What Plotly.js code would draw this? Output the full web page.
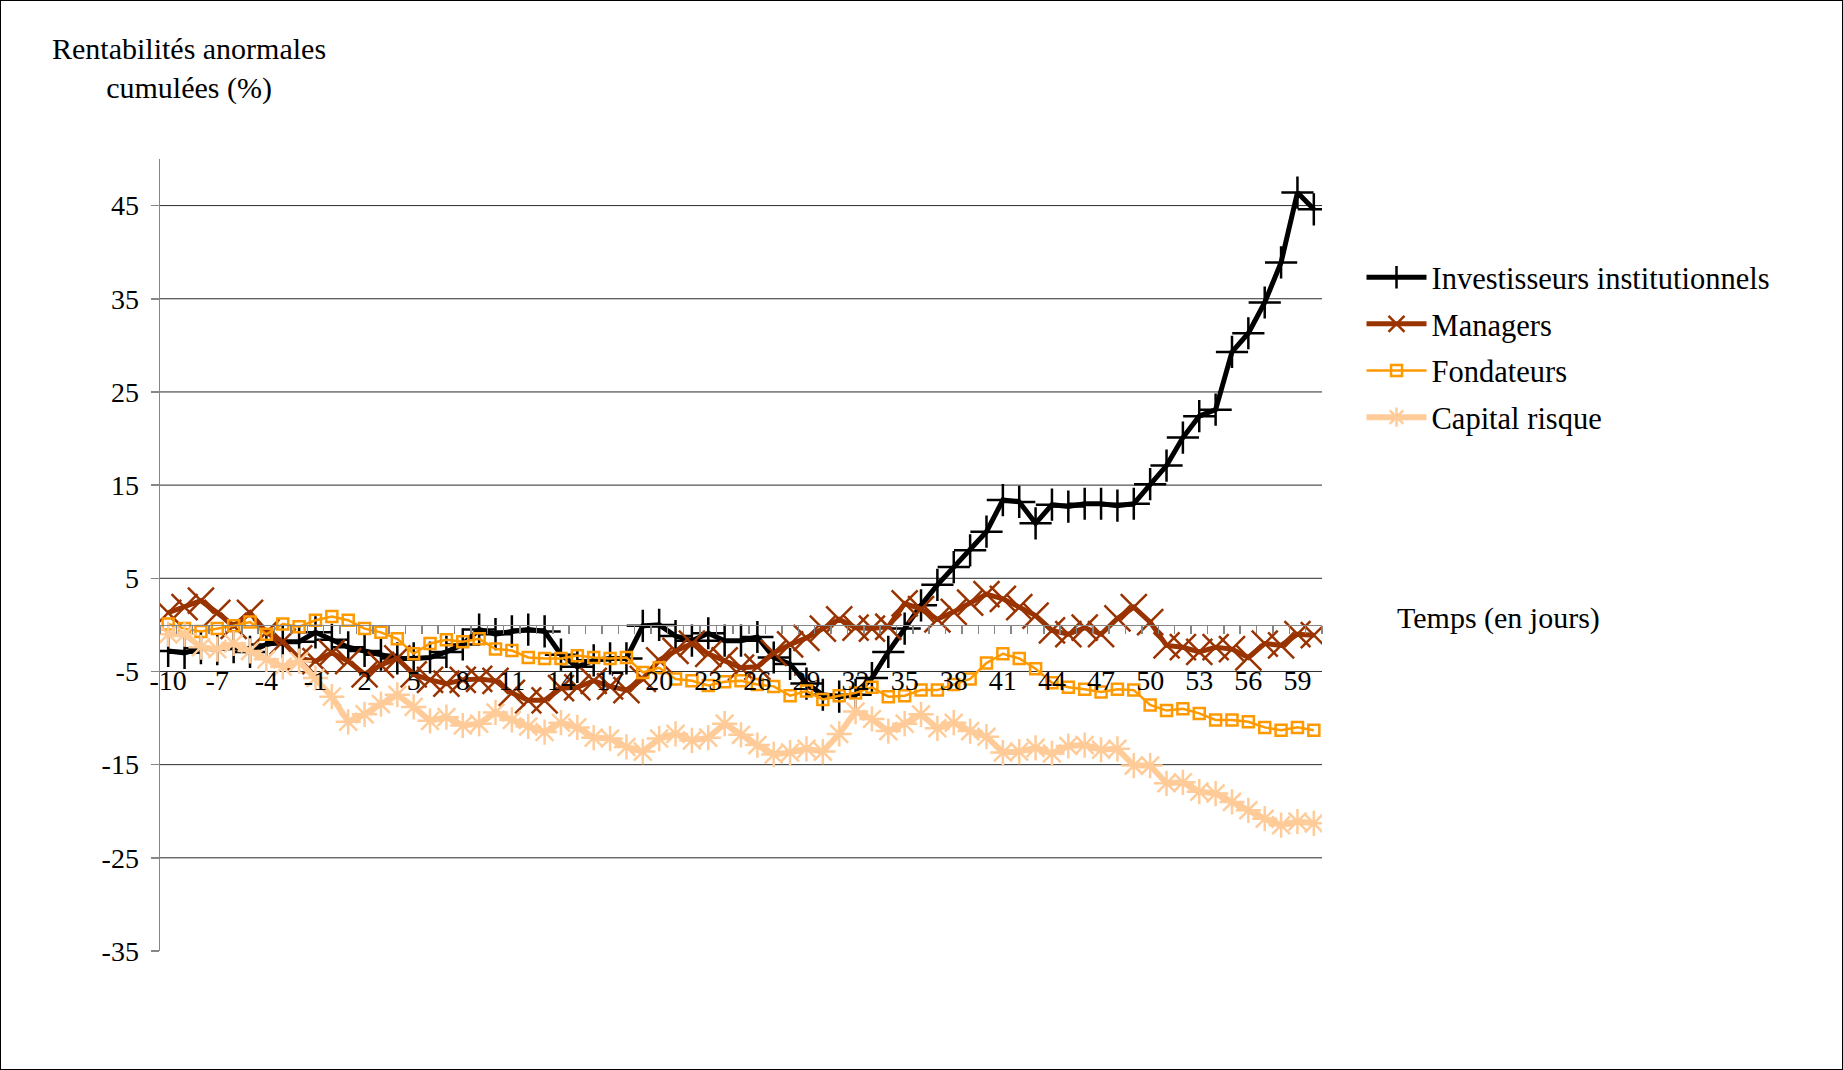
<!DOCTYPE html>
<html>
<head>
<meta charset="utf-8">
<script src="https://cdn.plot.ly/plotly-3.0.1.min.js"></script>
<style>
  html, body { margin: 0; padding: 0; background: #fff; }
  #wrap { width: 1841px; height: 1068px; border: 1px solid #000; }
  #chart { width: 1841px; height: 1068px; }
</style>
</head>
<body>
<div id="wrap"><div id="chart"></div></div>
<script>
// Days relative to the event (-10 .. 60)
const days = [];
for (let d = -10; d <= 60; d++) days.push(d);

const xTickLabels = [-10, -7, -4, -1, 2, 5, 8, 11, 14, 17, 20, 23, 26, 29, 32, 35, 38, 41, 44, 47, 50, 53, 56, 59];
const yTicks = [-35, -25, -15, -5, 5, 15, 25, 35, 45];

const investisseurs = [
  -2.8, -3.0, -2.5, -2.6, -2.4, -2.9, -2.1, -1.8, -1.8, -0.8,
  -1.6, -2.4, -2.8, -3.2, -3.6, -3.6, -3.5, -2.9, -2.1, -0.5,
  -1.0, -0.7, -0.5, -0.7, -3.2, -4.5, -3.8, -3.6, -3.6, -0.1,
   0.0, -1.2, -1.7, -0.9, -1.7, -1.7, -1.3, -3.5, -4.2, -6.3,
  -7.5, -7.7, -7.5, -5.7, -2.9, -0.4,  2.1,  4.3,  6.2,  8.0,
  10.0, 13.4, 13.2, 10.9, 12.9, 12.7, 13.0, 13.0, 12.8, 13.0,
  15.1, 17.1, 20.1, 22.4, 23.1, 29.3, 31.3, 34.6, 38.9, 46.4,
  44.6
];

const managers = [
   1.3,  1.9,  2.6,  1.3, -0.1,  1.3, -0.8, -1.8, -3.6, -3.9,
  -3.0, -3.9, -5.3, -4.3, -3.6, -5.3, -5.9, -6.3, -5.9, -5.8,
  -6.0, -7.3, -8.1, -8.1, -6.8, -6.7, -6.0, -6.6, -7.0, -5.8,
  -3.8, -2.8, -2.0, -3.1, -3.8, -4.6, -4.5, -3.0, -2.1, -1.4,
  -0.4,  0.6, -0.3, -0.4, -0.2,  2.3,  1.7,  0.6,  1.4,  2.4,
   3.3,  2.8,  1.9,  1.0, -0.6, -1.0, -0.3, -1.0,  0.7,  1.9,
   0.3, -2.2, -2.4, -2.9, -2.4, -2.6, -3.5, -2.0, -2.2, -1.0,
  -1.1
];

const fondateurs = [
   0.1, -0.4, -0.7, -0.4, -0.1,  0.3, -1.0,  0.1, -0.2,  0.5,
   0.9,  0.5, -0.4, -0.8, -1.5, -3.1, -2.0, -1.6, -1.8, -1.5,
  -2.6, -2.75, -3.5, -3.6, -3.6, -3.3, -3.5, -3.6, -3.5, -5.1,
  -4.6, -5.8, -6.0, -6.5, -6.1, -6.0, -6.4, -6.6, -7.6, -7.1,
  -8.0, -7.6, -7.3, -6.7, -7.7, -7.6, -7.0, -7.0, -6.4, -5.8,
  -4.1, -3.1, -3.6, -4.7, -6.2, -6.7, -6.9, -7.2, -6.9, -7.0,
  -8.6, -9.2, -9.0, -9.5, -10.2, -10.2, -10.4, -11.0, -11.3, -11.0,
  -11.3
];

const capitalRisque = [
  -1.0, -1.0, -2.4, -2.6, -2.0, -2.8, -3.7, -4.5, -3.9, -5.7,
  -7.7, -10.4, -9.6, -8.5, -7.5, -8.8, -10.3, -9.9, -10.8, -10.6,
  -9.4, -10.2, -10.9, -11.5, -10.5, -11.0, -12.1, -12.2, -13.1, -13.6,
  -12.2, -11.7, -12.4, -12.1, -10.6, -11.8, -12.9, -13.9, -13.7, -13.3,
  -13.6, -11.7, -9.3, -10.1, -11.4, -10.6, -9.6, -11.1, -10.5, -11.4,
  -12.0, -13.7, -13.6, -13.2, -13.8, -13.0, -12.9, -13.4, -13.3, -15.1,
  -15.1, -17.0, -16.9, -17.9, -18.1, -19.0, -19.9, -20.8, -21.5, -21.1,
  -21.3
];

const FONT = 'Liberation Serif, Times New Roman, serif';
const yMin = -35, yMax = 50;

const traces = [
  {
    name: 'Investisseurs institutionnels', x: days, y: investisseurs,
    type: 'scatter', mode: 'lines+markers', legendgroup: 'g1',
    line: { color: '#000000', width: 5 },
    marker: { symbol: 'cross-thin-open', size: 23, color: '#000000', line: { color: '#000000', width: 2.5 } }
  },
  {
    name: 'Managers', x: days, y: managers,
    type: 'scatter', mode: 'lines+markers', legendgroup: 'g2',
    line: { color: '#993300', width: 5 },
    marker: { symbol: 'x-thin-open', size: 26, color: '#993300', line: { color: '#993300', width: 2.5 } }
  },
  {
    name: 'Fondateurs', x: days, y: fondateurs,
    type: 'scatter', mode: 'lines+markers', legendgroup: 'g3',
    line: { color: '#FF9900', width: 2.5 },
    marker: { symbol: 'square-open', size: 11, color: '#FF9900', line: { color: '#FF9900', width: 2.5 } }
  },
  {
    name: 'Capital risque', x: days, y: capitalRisque,
    type: 'scatter', mode: 'lines+markers', legendgroup: 'g4',
    line: { color: '#FFCC99', width: 6 },
    marker: { symbol: 'asterisk-open', size: 21, color: '#FFCC99', line: { color: '#FFCC99', width: 2.5 } }
  }
];

const gridShapes = yTicks.filter(v => v !== yMin).map(v => ({
  type: 'line', xref: 'paper', yref: 'y', x0: 0, x1: 1, y0: v, y1: v,
  line: { color: '#2a2a2a', width: 1 }, layer: 'below'
}));

const layout = {
  width: 1841, height: 1068,
  margin: { l: 159, r: 520, t: 158, b: 118 },
  paper_bgcolor: '#ffffff', plot_bgcolor: '#ffffff',
  font: { family: FONT, size: 28, color: '#000' },
  showlegend: true,
  legend: {
    x: 1.034, xanchor: 'left', y: 0.884, yanchor: 'top',
    font: { family: FONT, size: 30.5, color: '#000' },
    itemwidth: 60, tracegroupgap: 4,
    bgcolor: 'rgba(0,0,0,0)', borderwidth: 0
  },
  xaxis: {
    range: [-10.5, 60.5],
    anchor: 'free', position: (0 - yMin) / (yMax - yMin),
    tickmode: 'array', tickvals: xTickLabels, ticktext: xTickLabels.map(v => String(v)),
    ticks: 'outside', ticklen: 8, tickcolor: 'rgba(0,0,0,0)',
    minor: { tick0: -10.5, dtick: 1, ticks: 'outside', ticklen: 8, tickwidth: 1.5, tickcolor: '#868686', showgrid: false },
    ticklabelstandoff: 22,
    showline: true, linecolor: '#868686', linewidth: 1.5,
    showgrid: false, zeroline: false,
    tickfont: { family: FONT, size: 28, color: '#000' }
  },
  yaxis: {
    range: [yMin, yMax],
    tickmode: 'array', tickvals: yTicks, ticktext: yTicks.map(v => String(v)),
    ticks: 'outside', ticklen: 8, tickcolor: '#868686', tickwidth: 1.5,
    ticklabelstandoff: 6,
    showline: true, linecolor: '#868686', linewidth: 1.5,
    showgrid: false, zeroline: false,
    tickfont: { family: FONT, size: 28, color: '#000' }
  },
  shapes: gridShapes,
  annotations: [
    {
      text: 'Rentabilités anormales<br>cumulées (%)',
      xref: 'paper', yref: 'paper', x: 0.025, y: 1.114,
      xanchor: 'center', yanchor: 'middle', showarrow: false,
      align: 'center', font: { family: FONT, size: 30, color: '#000' }
    },
    {
      text: 'Temps (en jours)',
      xref: 'paper', yref: 'paper', x: 1.152, y: 0.4205,
      xanchor: 'center', yanchor: 'middle', showarrow: false,
      font: { family: FONT, size: 30, color: '#000' }
    }
  ]
};

Plotly.newPlot('chart', traces, layout, { displayModeBar: false, staticPlot: true });
</script>
</body>
</html>
